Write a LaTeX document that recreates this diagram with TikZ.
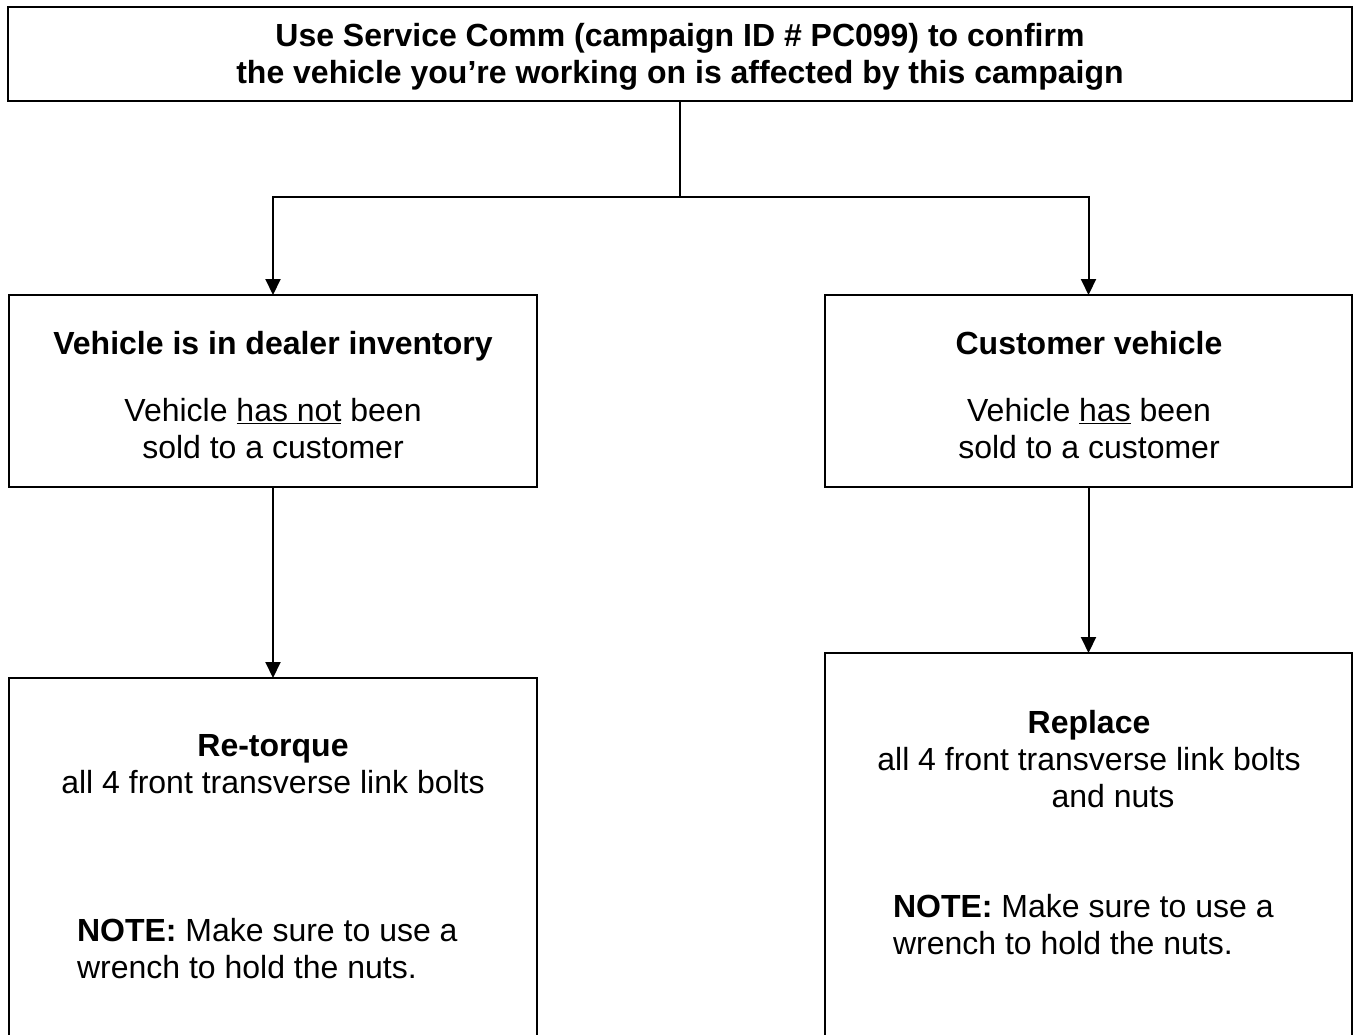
\documentclass[tikz,border=0pt]{standalone}
\usepackage{fontspec}
\setmainfont{Liberation Sans}
\usetikzlibrary{arrows.meta}
\begin{document}
\begin{tikzpicture}[x=1pt,y=-1pt,
  box/.style={draw,line width=2.2pt,inner sep=0pt,outer sep=0pt,rectangle},
  txt/.style={inner sep=0pt,outer sep=0pt,font=\fontsize{32}{37}\selectfont},
  ctxt/.style={txt,anchor=base},
  ltxt/.style={txt,anchor=base west},
  conn/.style={line width=2pt},
  arr/.style={conn,-{Triangle[length=16pt,width=15pt]}}]
\useasboundingbox[fill=white] (0,0) rectangle (1354,1034);
\clip (0,0) rectangle (1354,1034);
% boxes
\node[box,minimum width=1344pt,minimum height=94pt] (top) at (680,54) {};
\node[box,minimum width=528pt,minimum height=192pt] (lm) at (273,391) {};
\node[box,minimum width=527pt,minimum height=192pt] (rm) at (1088.5,391) {};
\node[box,minimum width=528pt,minimum height=422pt] (lb) at (273,889) {};
\node[box,minimum width=527pt,minimum height=447pt] (rb) at (1088.5,876.5) {};
% connectors
\coordinate (j) at (680,197);
\draw[conn] (top.south) -- (j);
\draw[arr] (j) -| (lm.north);
\draw[arr] (j) -| (rm.north);
\draw[arr] (lm.south) -- (lb.north);
\draw[arr] (rm.south) -- (rb.north);
% texts
\node[ctxt] (t1) at (680,46) {\bfseries Use Service Comm (campaign ID \# PC099) to confirm};
\node[ctxt] (t2) at (680,83) {\bfseries the vehicle you’re working on is affected by this campaign};
\node[ctxt] (l1) at (273,354) {\bfseries Vehicle is in dealer inventory};
\node[ctxt] (l2) at (273,421) {Vehicle \underline{has not} been};
\node[ctxt] (l3) at (273,458) {sold to a customer};
\node[ctxt] (r1) at (1089,354) {\bfseries Customer vehicle};
\node[ctxt] (r2) at (1089,421) {Vehicle \underline{has} been};
\node[ctxt] (r3) at (1089,458) {sold to a customer};
\node[ctxt] (lb1) at (273,756) {\bfseries Re-torque};
\node[ctxt] (lb2) at (273,793) {all 4 front transverse link bolts};
\node[ltxt] (lb3) at (77,941) {\textbf{NOTE:} Make sure to use a};
\node[ltxt] (lb4) at (77,978) {wrench to hold the nuts.};
\node[ctxt] (rb1) at (1089,733) {\bfseries Replace};
\node[ctxt] (rb2) at (1089,770) {all 4 front transverse link bolts};
\node[ctxt] (rb3) at (1113,807) {and nuts};
\node[ltxt] (rb4) at (893,917) {\textbf{NOTE:} Make sure to use a};
\node[ltxt] (rb5) at (893,954) {wrench to hold the nuts.};
\end{tikzpicture}
\end{document}
